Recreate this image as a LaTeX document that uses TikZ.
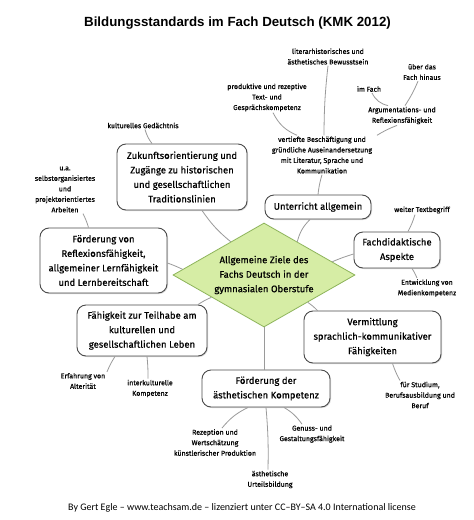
\documentclass[tikz,border=0pt]{standalone}
\usepackage{fontspec}
\setmainfont{Fira Sans}
\newfontfamily\hand{Fira Sans}[FakeBold=0.6]
\newfontfamily\handsmall{Fira Sans}[FakeBold=0.5]
\newfontfamily\titlefont{Liberation Sans}
\newfontfamily\footfont{Carlito}
\usetikzlibrary{shapes.geometric,shadows}
\definecolor{diafill}{HTML}{D6EDA5}
\definecolor{diadraw}{HTML}{8DB45A}
\definecolor{boxc}{HTML}{4A4A4A}
\definecolor{conc}{HTML}{9A9A9A}
\begin{document}
\begin{tikzpicture}[x=1pt,y=-1pt,
  box/.style={draw=boxc, line width=0.9pt, rounded corners=9pt, fill=white,
    align=center, inner sep=0pt, font=\hand\fontsize{9.5}{14.5}\selectfont,
    drop shadow={shadow xshift=1pt, shadow yshift=-1pt, fill=black, opacity=0.15}},
  lab/.style={align=center, inner sep=1pt, font=\handsmall\fontsize{7}{10.5}\selectfont},
  con/.style={draw=conc, line width=0.8pt}]
\useasboundingbox[fill=white] (0,0) rectangle (474,520);

% title and footer
\node[font=\titlefont\bfseries\fontsize{13.3}{16}\selectfont] (title) at (237.5,23)
  {Bildungsstandards im Fach Deutsch (KMK 2012)};
\node[font=\footfont\fontsize{10}{12}\selectfont] (foot) at (242,508)
  {By Gert Egle – www.teachsam.de – lizenziert unter CC–BY–SA 4.0 International license};

% central diamond
\node[diamond, aspect=1.75, minimum width=182pt, minimum height=104pt, inner sep=0pt,
  fill=diafill, draw=diadraw, line width=0.8pt, align=center,
  font=\hand\fontsize{9.5}{14.5}\selectfont] (dia) at (264,275)
  {Allgemeine Ziele des\\Fachs Deutsch in der\\gymnasialen Oberstufe};

% boxes
\node[box, minimum width=130pt, minimum height=66pt] (zuk) at (182,177)
  {Zukunftsorientierung und\\Zugänge zu historischen\\und gesellschaftlichen\\Traditionslinien};
\node[box, minimum width=106pt, minimum height=24pt] (unt) at (318,207)
  {Unterricht allgemein};
\node[box, minimum width=86pt, minimum height=36pt] (fach) at (397,250)
  {Fachdidaktische\\Aspekte};
\node[box, minimum width=127pt, minimum height=65pt] (for) at (103.5,260.5)
  {Förderung von\\Reflexionsfähigkeit,\\allgemeiner Lernfähigkeit\\und Lernbereitschaft};
\node[box, minimum width=130pt, minimum height=51pt] (teil) at (142,330.5)
  {Fähigkeit zur Teilhabe am\\kulturellen und\\gesellschaftlichen Leben};
\node[box, minimum width=137pt, minimum height=52pt] (verm) at (372.5,337)
  {Vermittlung\\sprachlich-kommunikativer\\Fähigkeiten};
\node[box, minimum width=128pt, minimum height=37pt] (aes) at (266,388.5)
  {Förderung der\\ästhetischen Kompetenz};

% labels
\node[lab] (lit) at (328,56.5) {literarhistorisches und\\ästhetisches Bewusstsein};
\node[lab] (ueber) at (422,72) {über das\\Fach hinaus};
\node[lab] (imfach) at (369,89) {im Fach};
\node[lab] (prod) at (267,97.5) {produktive und rezeptive\\Text- und\\Gesprächskompetenz};
\node[lab] (arg) at (402,115.5) {Argumentations- und\\Reflexionsfähigkeit};
\node[lab] (kul) at (143,125.5) {kulturelles Gedächtnis};
\node[lab] (ver) at (322,155) {vertiefte Beschäftigung und\\gründliche Auseinandersetzung\\mit Literatur, Sprache und\\Kommunikation};
\node[lab] (ua) at (65,189.5) {u.a.\\selbstorganisiertes\\und\\projektorientiertes\\Arbeiten};
\node[lab] (weiter) at (422,210) {weiter Textbegriff};
\node[lab] (entw) at (427,288) {Entwicklung von\\Medienkompetenz};
\node[lab] (erf) at (83,381) {Erfahrung von\\Alterität};
\node[lab] (inter) at (150,388.5) {interkulturelle\\Kompetenz};
\node[lab] (stud) at (420,395) {für Studium,\\Berufsausbildung und\\Beruf};
\node[lab] (rez) at (215,442.5) {Rezeption und\\Wertschätzung\\künstlerischer Produktion};
\node[lab] (gen) at (312,434) {Genuss- und\\Gestaltungsfähigkeit};
\node[lab] (aesu) at (270,479.5) {ästhetische\\Urteilsbildung};

% connectors
\draw[con] ([xshift=20pt]zuk.south) to[bend right=8] (dia.135);
\draw[con] ([xshift=-8pt]unt.south) to[bend right=15] (dia.45);
\draw[con] (unt.north) to[bend left=5] ([xshift=0pt]ver.south);
\draw[con] ([xshift=2pt]ver.north) to[bend left=3] ([xshift=0pt]lit.south);
\draw[con] ([xshift=6pt]prod.south) to[bend right=20] ([xshift=-25pt]ver.north);
\draw[con] ([xshift=55pt]ver.north) to[bend left=5] ([xshift=-5pt]arg.south);
\draw[con] ([xshift=-14pt]arg.north) to[bend left=25] ([xshift=3pt]imfach.south);
\draw[con] ([xshift=3pt]arg.north) to[bend right=5] ([xshift=-4pt]ueber.south);
\draw[con] ([xshift=2pt]kul.south) to[bend right=10] ([xshift=-30pt]zuk.north);
\draw[con] ([xshift=18pt]ua.south) to[bend left=5] ([xshift=-15pt]for.north);
\draw[con] ([yshift=-2.5pt]for.east) to[bend left=3] (dia.176);
\draw[con] (dia.11) to[bend left=3] ([yshift=-4pt]fach.west);
\draw[con] ([xshift=11pt]fach.north) to[bend right=5] ([xshift=-7pt]weiter.south);
\draw[con] ([xshift=15pt]fach.south) to[bend left=5] ([xshift=-10pt]entw.north);
\draw[con] (dia.-32) to[bend left=5] ([xshift=-55pt]verm.north);
\draw[con] ([xshift=20pt]verm.south) to[bend right=5] ([xshift=-20pt]stud.north);
\draw[con] (dia.-157) to[bend right=5] ([xshift=56pt]teil.north);
\draw[con] ([xshift=-27pt]teil.south) to[bend right=5] ([xshift=24pt]erf.north);
\draw[con] ([xshift=5pt]teil.south) to[bend left=3] ([xshift=-2pt]inter.north);
\draw[con] (dia.south) -- ([xshift=-2pt]aes.north);
\draw[con] ([xshift=-18pt]aes.south) to[bend right=12] ([xshift=7pt]rez.north);
\draw[con] ([xshift=18pt]aes.south) to[bend left=12] ([xshift=-10pt]gen.north);
\draw[con] (aes.south) to[bend left=3] ([xshift=-2pt]aesu.north);
\end{tikzpicture}
\end{document}
